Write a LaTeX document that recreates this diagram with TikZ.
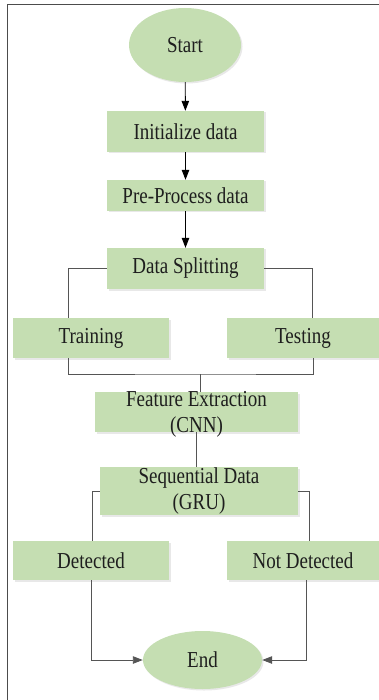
\documentclass[tikz,border=0pt]{standalone}
\usepackage{fontspec}
\usepackage{graphicx}
\setmainfont{Liberation Serif}
\usetikzlibrary{shapes.geometric,arrows.meta,shadows}
\definecolor{boxgreen}{HTML}{C5DEB2}
\definecolor{ink}{HTML}{1E1E1E}
\definecolor{wire}{HTML}{555555}
% labels are set slightly taller than wide
\newcommand\tallbox[1]{\scalebox{1}[1.2]{#1}}
\newcommand\twolines[2]{\tallbox{\begin{tabular}{@{}c@{}}#1\\#2\end{tabular}}}
\tikzset{
  every node/.style={font=\fontsize{19}{21.7}\selectfont, text=ink},
  box/.style={rectangle, fill=boxgreen, inner sep=0pt, align=center,
    drop shadow={opacity=0.18, shadow xshift=1.5pt, shadow yshift=-1.5pt}},
  oval/.style={ellipse, fill=boxgreen, inner sep=0pt,
    drop shadow={opacity=0.18, shadow xshift=1.5pt, shadow yshift=-1.5pt}},
  txt/.style={inner sep=0pt, align=center},
  flow/.style={-{Triangle[length=10pt,width=7.5pt]}, black, line width=0.9pt},
  link/.style={wire, line width=0.9pt},
  frame/.style={draw=black!70, line width=1pt}
}
\begin{document}
\begin{tikzpicture}[x=1pt, y=-1pt]
\useasboundingbox (0,0) rectangle (379,700);
% outer frame (top and left edges)
\draw[frame] (379,5) -- (7,5) -- (7,700);

% process nodes
\node[oval, minimum width=112pt, minimum height=74pt] (start) at (185,45) {\tallbox{Start}};
\node[box, minimum width=157pt, minimum height=41pt] (init) at (185.5,131.5) {\tallbox{Initialize data}};
\node[box, minimum width=157pt, minimum height=31pt] (pre) at (185.5,195.5) {\tallbox{Pre-Process data}};
\node[box, minimum width=157pt, minimum height=41pt] (split) at (185.5,268.5) {\tallbox{Data Splitting}};
\node[box, minimum width=156pt, minimum height=40pt] (train) at (91,338) {\tallbox{Training}};
\node[box, minimum width=152pt, minimum height=40pt] (test) at (303,338) {\tallbox{Testing}};
\node[box, minimum width=203pt, minimum height=40pt] (feat) at (196.5,412) {};
\node[txt] (featlabel) at (196.5,414) {\twolines{Feature Extraction}{(CNN)}};
\node[box, minimum width=198pt, minimum height=48pt] (seq) at (199,491) {};
\node[txt] (seqlabel) at (199,491) {\twolines{Sequential Data}{(GRU)}};
\node[box, minimum width=156pt, minimum height=39pt] (det) at (91,560.5) {\tallbox{Detected}};
\node[box, minimum width=152pt, minimum height=39pt] (notdet) at (303,560.5) {\tallbox{Not Detected}};
\node[oval, minimum width=119pt, minimum height=58pt] (end) at (202.5,660) {\tallbox{End}};

% branch points
\coordinate (trainin) at (68,318);
\coordinate (testin) at (312,318);
\coordinate (trainout) at (68,358);
\coordinate (testout) at (313,358);
\coordinate (merge) at (200,374);
\coordinate (featin) at (200,392);
\coordinate (featout) at (196,432);
\coordinate (seqin) at (196,467);
\coordinate (detin) at (92,541);
\coordinate (notdetin) at (309,541);
\coordinate (detout) at (91,580);
\coordinate (notdetout) at (306,580);

% main sequence
\draw[flow] (start) -- (init);
\draw[flow] (init) -- (pre);
\draw[flow] (pre) -- (split);

% split into training / testing
\draw[link] (split.west) -| (trainin);
\draw[link] (split.east) -| (testin);
\draw[link] (trainout) |- (merge) -| (testout);
\draw[link] (merge) -- (featin);

% CNN to GRU
\draw[link] (featout) -- (seqin);

% GRU outcomes
\draw[link] (seq.west) -| (detin);
\draw[link] (seq.east) -| (notdetin);
\draw[flow, wire] (detout) |- (end.west);
\draw[flow, wire] (notdetout) |- (end.east);
\end{tikzpicture}
\end{document}
